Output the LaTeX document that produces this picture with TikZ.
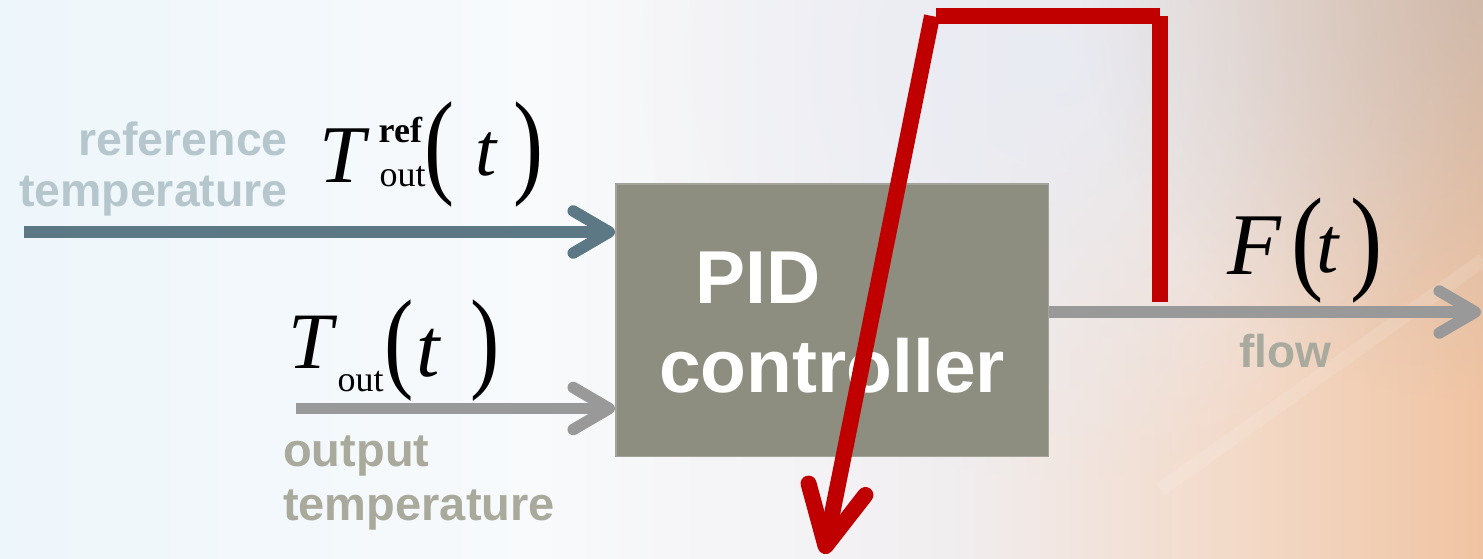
\documentclass[tikz,border=0pt]{standalone}
\usepackage{fontspec}
\setmainfont{Liberation Serif}
\newfontfamily\labelfont{Liberation Sans}
\usetikzlibrary{arrows.meta,fadings}

\definecolor{refblue}{HTML}{5B7884}
\definecolor{reflabel}{HTML}{B5C6CD}
\definecolor{sigray}{HTML}{999999}
\definecolor{outlabel}{HTML}{A9AA9C}
\definecolor{flowlabel}{HTML}{A7AA9D}
\definecolor{boxfill}{HTML}{8E8E80}
\definecolor{boxedge}{HTML}{A3A39B}
\definecolor{penred}{HTML}{C00000}
\definecolor{bgA}{HTML}{EDF6FB}
\definecolor{bgB}{HTML}{F8FAFC}
\definecolor{bgC}{HTML}{F1EEF0}
\definecolor{bgD}{HTML}{F3D9C7}
\definecolor{bgE}{HTML}{F0C4A2}
\definecolor{bgGray}{HTML}{BDB3B0}
\definecolor{bgLav}{HTML}{E8ECF5}

% visible part of the shading runs from 25bp to 75bp
\pgfdeclarehorizontalshading{backdrop}{100bp}{color(0bp)=(bgA); color(25bp)=(bgA); color(43bp)=(bgB); color(57bp)=(bgC); color(67bp)=(bgD); color(75bp)=(bgE); color(100bp)=(bgE)}
\tikzfading[name=glowfade, inner color=transparent!0, outer color=transparent!100]

\newcommand{\fsize}[2]{\fontsize{#1pt}{#2pt}\selectfont}
\newcommand{\placeglyph}[4]{\rlap{\hspace*{#1pt}\raisebox{#2pt}{#3#4}}}
\newcommand{\tallparen}[2]{\scalebox{1.1}[#1]{#2}}

\begin{document}
\begin{tikzpicture}[x=1pt, y=-1pt,
    signal/.style={line width=11.5pt, -{Straight Barb[length=36pt, width=42pt, round]}},
    pidbox/.style={draw=boxedge, line width=1.5pt, fill=boxfill, minimum width=432.5pt, minimum height=272.5pt, inner sep=0pt},
    sanslabel/.style={inner sep=0pt, font=\labelfont\bfseries},
    mathlabel/.style={inner sep=0pt, anchor=base west},
    redpen/.style={line width=16pt, penred}]
    \useasboundingbox (0,0) rectangle (1483,558);

    % Backdrop
    \shade[shading=backdrop] (0,0) rectangle (1483,558);
    \begin{scope}
      \clip (0,0) rectangle (1483,558);
      \fill[bgLav, path fading=glowfade, opacity=0.9] (1060,60) circle (420);
      \fill[bgGray, path fading=glowfade, opacity=0.6] (1483,0) circle (400);
      \draw[white, opacity=0.12, line width=14pt] (1483,260) -- (1160,490);
    \end{scope}

    % Controller block
    \node[pidbox] (pid) at (832,320) {};

    % Signals
    \coordinate (refstart) at (24,232);
    \coordinate (outstart) at (296,408.5);
    \coordinate (flowend) at (1481,312);
    \draw[signal, refblue] (refstart) -- (pid.west |- refstart);
    \draw[signal, sigray] (outstart) -- (pid.west |- outstart);
    \draw[signal, sigray] (pid.east |- flowend) -- (flowend);

    % Labels
    \node[sanslabel, text=reflabel, anchor=base east] (reflab) at (288,155)
      {\fsize{46.5}{51}\begin{tabular}[t]{@{}r@{}}reference\\temperature\end{tabular}};
    \node[sanslabel, text=outlabel, anchor=base west] (outlab) at (283,466)
      {\fsize{47}{54}\begin{tabular}[t]{@{}l@{}}output\\temperature\end{tabular}};
    \node[sanslabel, text=flowlabel, anchor=base west] (flowlab) at (1239,367) {\fsize{46}{46}flow};
    \node[sanslabel, text=white, anchor=base west] (pidtext) at (659,303)
      {\fsize{75}{89}\begin{tabular}[t]{@{}l@{}}\hspace*{36pt}PID\\controller\end{tabular}};

    % Signal names
    \node[mathlabel] (trefmath) at (319,182) {\placeglyph{0}{0}{\fsize{82}{82}\itshape}{T}\placeglyph{59}{40}{\fsize{36}{36}\bfseries}{ref}\placeglyph{60}{-4}{\fsize{36}{36}}{out}\placeglyph{105}{0}{\fsize{82}{82}}{\tallparen{1.42}{(}}\placeglyph{156}{7}{\fsize{76}{76}\itshape}{t}\placeglyph{194}{0}{\fsize{82}{82}}{\tallparen{1.42}{)}}};
    \node[mathlabel] (toutmath) at (288,368) {\placeglyph{0}{0}{\fsize{80}{80}\itshape}{T}\placeglyph{49}{-23}{\fsize{36}{36}}{out}\placeglyph{96}{-9}{\fsize{80}{80}}{\tallparen{1.4}{(}}\placeglyph{128}{-8}{\fsize{84}{84}\itshape}{t}\placeglyph{182}{-9}{\fsize{80}{80}}{\tallparen{1.4}{)}}};
    \node[mathlabel] (flowmath) at (1227,274) {\placeglyph{0}{0}{\fsize{88}{88}\itshape}{F}\placeglyph{64}{-4}{\fsize{88}{88}}{\tallparen{1.32}{(}}\placeglyph{89}{2}{\fsize{80}{80}\itshape}{t}\placeglyph{123}{-4}{\fsize{88}{88}}{\tallparen{1.32}{)}}};

    % Red stroke
    \coordinate (redfoot) at (1160,302);
    \coordinate (redtop) at (1160,16);
    \coordinate (redbarL) at (936,15.5);
    \coordinate (redbarR) at (1160,15.5);
    \coordinate (redstart) at (932,16);
    \coordinate (redtip) at (824,554);
    \draw[redpen] (redfoot) -- (redtop);
    \draw[redpen] (redbarL) -- (redbarR);
    \draw[redpen, -{Straight Barb[length=58pt, width=58pt, round]}] (redstart) -- (redtip);
\end{tikzpicture}
\end{document}
